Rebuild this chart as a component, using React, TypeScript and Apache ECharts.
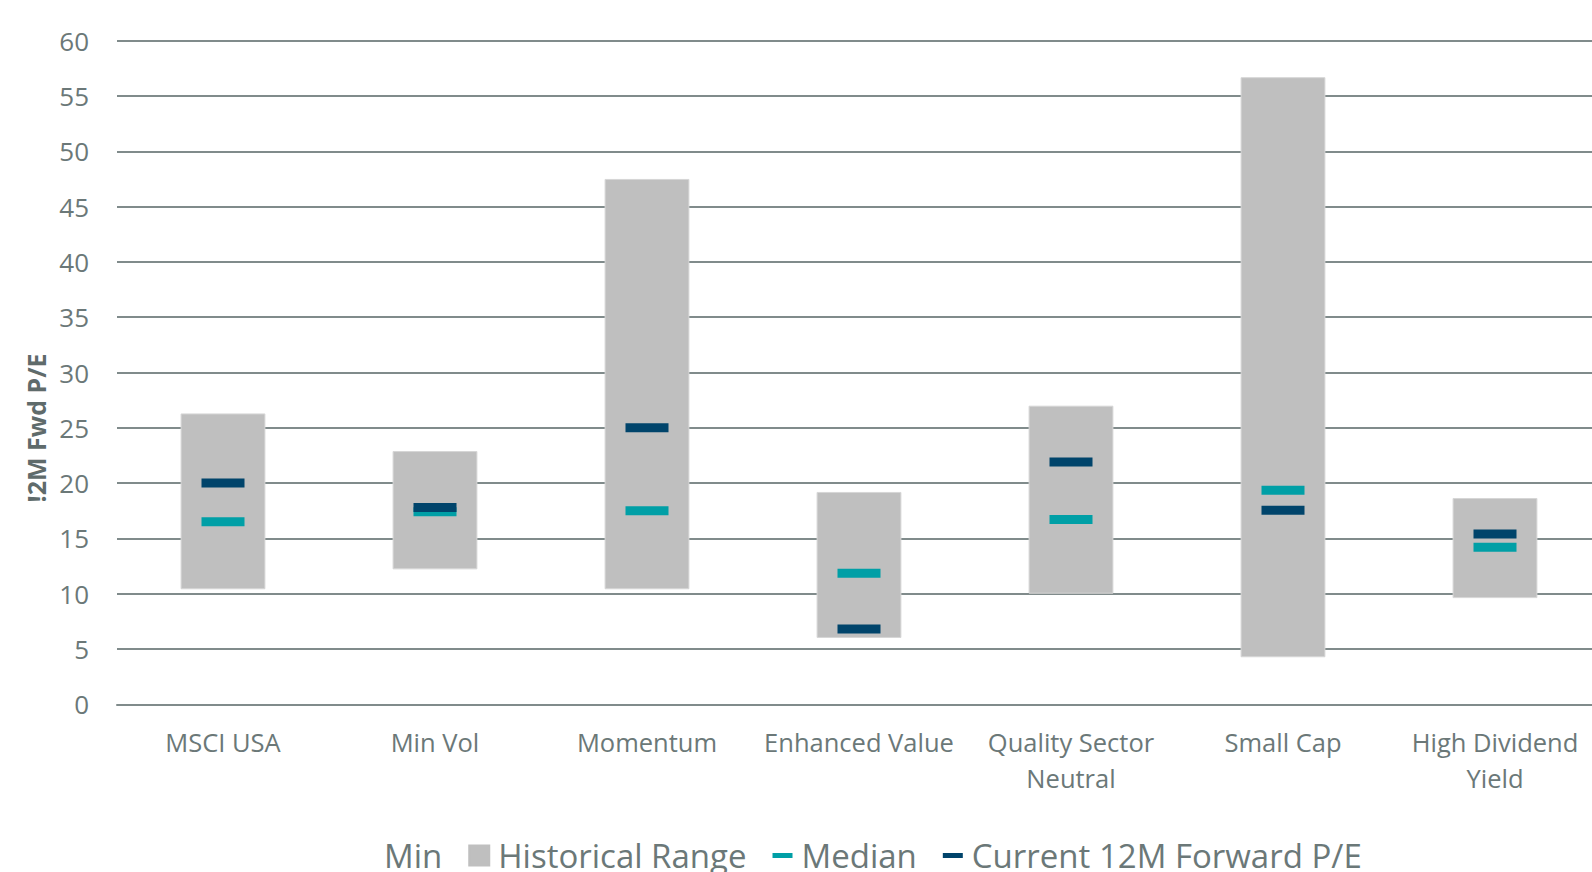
import React, { useEffect, useRef } from 'react';
import * as echarts from 'echarts';

const categories = ['MSCI USA', 'Min Vol', 'Momentum', 'Enhanced Value', 'Quality Sector\nNeutral', 'Small Cap', 'High Dividend\nYield'];
const minValues = [10.4, 12.2, 10.4, 6.0, 10.0, 4.25, 9.6];
const maxValues = [26.3, 22.9, 47.5, 19.2, 27.0, 56.7, 18.65];
const medianValues = [16.5, 17.4, 17.5, 11.85, 16.7, 19.35, 14.2];
const currentValues = [20.0, 17.8, 25.0, 6.8, 21.9, 17.55, 15.4];
const yTicks = { min: 0, max: 60, interval: 5 };
const yTitle = '!2M Fwd P/E';

const TEXT = '#6b7878';
const GRID = '#808b8b';

export default function App() {
  const ref = useRef<HTMLDivElement>(null);
  useEffect(() => {
    const chart = echarts.init(ref.current!, null, { renderer: 'svg' });
    const rangeValues = maxValues.map((m, i) => +(m - minValues[i]).toFixed(2));
    chart.setOption({
      animation: false,
      backgroundColor: '#ffffff',
      textStyle: { fontFamily: 'Open Sans' },
      grid: { left: 117, right: 0, top: 40.7, bottom: 167.7, containLabel: false },
      graphic: [
        {
          type: 'text',
          x: 35.5,
          y: 428,
          rotation: Math.PI / 2,
          style: {
            text: yTitle,
            fill: '#5f6b6b',
            font: 'bold 25px "Open Sans"',
            textAlign: 'center',
            textVerticalAlign: 'middle',
          },
        },
      ],
      legend: {
        left: 350,
        top: 834,
        itemWidth: 20,
        itemHeight: 20,
        itemGap: 26,
        selectedMode: false,
        textStyle: { fontSize: 33, color: TEXT, fontFamily: 'Open Sans', padding: [0, 0, 0, 4] },
        data: [
          { name: 'Min', icon: 'rect', itemStyle: { color: 'transparent', borderColor: 'transparent' } },
          { name: 'Historical Range', icon: 'rect', itemStyle: { color: '#bfbfbf', borderColor: '#bfbfbf' } },
          { name: 'Median', icon: 'path://M0,0H20V5H0Z' },
          { name: 'Current 12M Forward P/E', icon: 'path://M0,0H20V5H0Z' },
        ],
      },
      xAxis: {
        type: 'category',
        data: categories,
        axisLine: { show: true, lineStyle: { color: GRID, width: 2 } },
        axisTick: { show: false },
        axisLabel: { color: TEXT, fontSize: 25.5, margin: 20, lineHeight: 36, interval: 0 },
      },
      yAxis: {
        type: 'value',
        min: yTicks.min,
        max: yTicks.max,
        interval: yTicks.interval,
        axisLine: { show: false },
        axisTick: { show: false },
        axisLabel: { color: TEXT, fontSize: 26, margin: 28 },
        splitLine: { show: true, lineStyle: { color: GRID, width: 2 } },
      },
      series: [
        {
          name: 'Min',
          type: 'bar',
          stack: 'range',
          barWidth: '40%',
          itemStyle: { color: 'transparent' },
          data: minValues,
          silent: true,
        },
        {
          name: 'Historical Range',
          type: 'bar',
          stack: 'range',
          barWidth: '40%',
          itemStyle: { color: '#bfbfbf', borderColor: '#d6d6d6', borderWidth: 1 },
          data: rangeValues,
        },
        {
          name: 'Median',
          type: 'scatter',
          symbol: 'rect',
          symbolSize: [43, 9],
          itemStyle: { color: '#009fa6', opacity: 1 },
          data: medianValues,
          z: 3,
        },
        {
          name: 'Current 12M Forward P/E',
          type: 'scatter',
          symbol: 'rect',
          symbolSize: [43, 9],
          itemStyle: { color: '#00446b', opacity: 1 },
          data: currentValues,
          z: 4,
        },
      ],
    });
    return () => chart.dispose();
  }, []);
  return (
    <div style={{ position: 'fixed', left: 0, top: 0, width: 1592, height: 872, overflow: 'hidden', background: '#fff' }}>
      <div ref={ref} style={{ position: 'absolute', left: 0, top: 0, width: 1601, height: 872 }} />
    </div>
  );
}
